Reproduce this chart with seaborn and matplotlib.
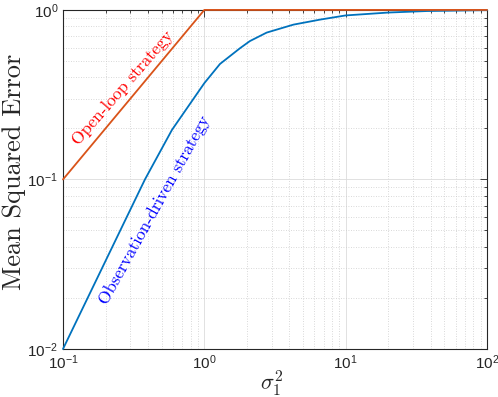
import numpy as np
import pandas as pd
import matplotlib
matplotlib.use("Agg")
import matplotlib.pyplot as plt
import matplotlib.ticker as mticker
import seaborn as sns

# values (log-log axes)
open_loop_x = [0.1, 1.0, 100.0]
open_loop_y = [0.1, 1.0, 1.0]

obs_x = [0.1, 0.26, 0.38, 0.59, 1.0, 1.29, 1.79, 2.1, 2.76, 4.27, 6.6, 10.0, 20.0, 37.5, 100.0]
obs_y = [0.01, 0.052, 0.10, 0.196, 0.37, 0.48, 0.595, 0.655, 0.735, 0.819, 0.877, 0.928, 0.965, 0.985, 0.997]

x_ticks = [0.1, 1, 10, 100]
y_ticks = [0.01, 0.1, 1]

open_df = pd.DataFrame({"sigma": open_loop_x, "mse": open_loop_y})
obs_df = pd.DataFrame({"sigma": obs_x, "mse": obs_y})

sns.set_style("white")
plt.rcParams['font.family'] = ['Liberation Sans', 'DejaVu Sans']
plt.rcParams['mathtext.fontset'] = 'cm'

fig = plt.figure(figsize=(4.98, 3.97), dpi=100)
ax = fig.add_axes([0.1265, 0.121, 0.8515, 0.854])

sns.lineplot(x='sigma', y='mse', data=obs_df, ax=ax, color='#0072BD', linewidth=1.3,
             sort=False, estimator=None, clip_on=False, zorder=4)
sns.lineplot(x='sigma', y='mse', data=open_df, ax=ax, color='#D95319', linewidth=1.3,
             sort=False, estimator=None, clip_on=False, zorder=5)

ax.set_xscale('log')
ax.set_yscale('log')
ax.set_xlim(0.1, 100)
ax.set_ylim(0.01, 1)

fmt = mticker.FuncFormatter(lambda v, p: r'$\mathregular{10^{%d}}$' % int(round(np.log10(v))))
ax.xaxis.set_major_locator(mticker.FixedLocator(x_ticks))
ax.yaxis.set_major_locator(mticker.FixedLocator(y_ticks))
ax.xaxis.set_major_formatter(fmt)
ax.yaxis.set_major_formatter(fmt)
ax.xaxis.set_minor_locator(mticker.LogLocator(base=10, subs=np.arange(2, 10), numticks=20))
ax.yaxis.set_minor_locator(mticker.LogLocator(base=10, subs=np.arange(2, 10), numticks=20))
ax.xaxis.set_minor_formatter(mticker.NullFormatter())
ax.yaxis.set_minor_formatter(mticker.NullFormatter())

ax.tick_params(which='both', direction='in', top=True, right=True, colors='#262626',
               labelsize=11, width=0.6)
ax.tick_params(which='major', length=5)
ax.tick_params(which='minor', length=2.5)

ax.grid(True, which='major', color='#dcdcdc', linestyle='-', linewidth=0.6)
ax.grid(True, which='minor', color='#cccccc', linestyle=(0, (1, 2)), linewidth=0.6)
for s in ax.spines.values():
    s.set_color('#262626')
    s.set_linewidth(0.8)

ax.set_xlabel(r'$\sigma_1^2$', fontsize=16)
ax.set_ylabel('Mean Squared Error', fontsize=19, family='cmr10')
ax.xaxis.set_label_coords(0.492, -0.058)
ax.yaxis.set_label_coords(-0.088, 0.523)

ax.text(0.266, 0.347, 'Open-loop strategy', color='#FF0000', fontsize=12.5,
        family='cmr10', rotation=49, ha='center', va='center')
ax.text(0.448, 0.066, 'Observation-driven strategy', color='#0000FF', fontsize=12.5,
        family='cmr10', rotation=61, ha='center', va='center')

fig.savefig('out.png', dpi=100)
